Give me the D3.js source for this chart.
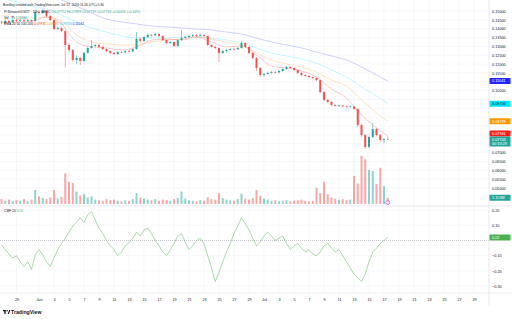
<!doctype html>
<html lang="en">
<head>
<meta charset="utf-8">
<title>PI/USDT</title>
<script src="https://cdn.jsdelivr.net/npm/d3@7"></script>
<style>
  body { margin: 0; background: #fff; }
  svg { display: block; font-family: "Liberation Sans", Arial, sans-serif; }
</style>
</head>
<body>
<script>
// 12h candles from 27 May, open of each candle = previous close
var firstOpen = 0.1435;
var closes = [0.1432,0.1444,0.1438,0.1449,0.1444,0.1449,0.1444,0.1449,0.1444,0.1494,
  0.1489,0.1500,0.1472,0.1449,0.1398,0.1404,0.1387,0.1308,0.1280,0.1223,
  0.1235,0.1218,0.1263,0.1291,0.1302,0.1308,0.1297,0.1285,0.1274,0.1263,
  0.1257,0.1268,0.1266,0.1274,0.1272,0.1285,0.1342,0.1331,0.1353,0.1364,
  0.1362,0.1370,0.1359,0.1336,0.1319,0.1325,0.1302,0.1336,0.1348,0.1353,
  0.1359,0.1364,0.1359,0.1364,0.1359,0.1308,0.1297,0.1291,0.1263,0.1274,
  0.1280,0.1285,0.1283,0.1291,0.1319,0.1297,0.1263,0.1235,0.1178,0.1138,
  0.1144,0.1150,0.1155,0.1153,0.1161,0.1172,0.1184,0.1178,0.1167,0.1150,
  0.1138,0.1133,0.1127,0.1122,0.1110,0.1042,0.0998,0.0986,0.0969,0.0964,
  0.0966,0.0962,0.0958,0.0960,0.0947,0.0856,0.0799,0.0732,0.0788,0.0833,
  0.0799,0.0771,0.07752,0.07743];
var highs = [0.1445,0.1452,0.1450,0.1456,0.1455,0.1458,0.1454,0.1457,0.1453,0.1503,
  0.1506,0.1511,0.1504,0.1478,0.1452,0.1412,0.1408,0.1390,0.1316,0.1285,
  0.1248,0.1240,0.1270,0.1300,0.1336,0.1315,0.1312,0.1300,0.1289,0.1278,
  0.1268,0.1274,0.1274,0.1279,0.1280,0.1290,0.1381,0.1350,0.1360,0.1372,
  0.1370,0.1378,0.1374,0.1363,0.1340,0.1332,0.1329,0.1342,0.1393,0.1360,
  0.1366,0.1371,0.1369,0.1373,0.1368,0.1362,0.1312,0.1302,0.1295,0.1281,
  0.1286,0.1292,0.1293,0.1297,0.1331,0.1323,0.1300,0.1267,0.1239,0.1183,
  0.1150,0.1156,0.1162,0.1160,0.1167,0.1180,0.1190,0.1188,0.1182,0.1171,
  0.1154,0.1143,0.1137,0.1131,0.1126,0.1113,0.1046,0.1004,0.0991,0.0974,
  0.0972,0.0970,0.0966,0.0966,0.0964,0.0950,0.0862,0.0805,0.0796,0.0867,
  0.0840,0.0805,0.0782,0.07899];
var lows = [0.1425,0.1428,0.1432,0.1433,0.1438,0.1439,0.1437,0.1440,0.1436,0.1440,
  0.1480,0.1484,0.1466,0.1443,0.1392,0.1393,0.1380,0.1180,0.1268,0.1215,
  0.1200,0.1195,0.1212,0.1258,0.1286,0.1296,0.1290,0.1279,0.1268,0.1257,
  0.1250,0.1252,0.1261,0.1260,0.1266,0.1268,0.1281,0.1322,0.1325,0.1348,
  0.1355,0.1357,0.1353,0.1330,0.1313,0.1314,0.1296,0.1298,0.1331,0.1342,
  0.1348,0.1354,0.1352,0.1355,0.1351,0.1302,0.1290,0.1284,0.1212,0.1258,
  0.1266,0.1276,0.1277,0.1279,0.1287,0.1291,0.1256,0.1228,0.1160,0.1128,
  0.1127,0.1139,0.1145,0.1147,0.1148,0.1157,0.1168,0.1172,0.1161,0.1144,
  0.1132,0.1126,0.1120,0.1115,0.1104,0.1035,0.0990,0.0979,0.0962,0.0958,
  0.0959,0.0956,0.0952,0.0953,0.0941,0.0845,0.0788,0.0720,0.0727,0.0782,
  0.0790,0.0760,0.0752,0.07719];
// volume in millions
var volumes = [0.9,0.6,0.8,0.5,0.7,0.6,0.9,0.5,0.8,2.6,
  1.4,1.1,0.9,1.2,2.6,1.0,1.3,5.7,4.1,3.9,
  2.3,1.6,1.9,1.2,1.4,0.8,0.7,0.6,0.9,0.7,
  0.8,0.6,0.5,0.7,0.6,0.9,2.0,1.2,1.0,0.8,
  0.7,0.9,0.6,0.8,0.7,0.6,0.9,1.1,2.3,1.0,
  0.7,0.6,0.5,0.7,0.6,1.2,0.9,0.8,2.0,1.1,
  0.8,0.7,0.6,0.9,1.9,1.0,0.8,1.1,2.6,1.5,
  1.0,0.8,0.6,0.7,0.5,0.6,0.7,0.5,0.6,0.7,
  0.8,0.6,0.5,0.6,3.0,2.0,4.1,1.8,1.2,1.0,
  0.8,0.9,0.7,0.8,5.2,3.8,8.9,8.3,6.3,6.1,
  3.7,6.7,3.3,1.153];
var cmf = [-0.03,-0.06,-0.09,-0.115,-0.10,-0.14,-0.17,-0.14,-0.19,-0.095,
  -0.06,-0.095,-0.14,-0.17,-0.115,-0.06,-0.02,0.015,0.055,0.095,
  0.12,0.15,0.12,0.17,0.19,0.135,0.08,0.045,0.0,-0.035,
  -0.06,-0.10,-0.075,-0.035,-0.015,0.015,0.055,0.03,0.07,0.08,
  0.045,0.0,-0.035,-0.075,-0.10,-0.06,-0.02,0.03,0.045,-0.01,
  -0.06,-0.035,0.0,0.015,-0.02,-0.10,-0.18,-0.27,-0.21,-0.14,
  -0.075,-0.02,0.045,0.095,0.15,0.11,0.07,0.015,-0.035,-0.01,
  0.03,0.055,0.03,0.0,0.015,0.03,-0.02,-0.06,-0.035,-0.02,
  -0.05,-0.075,-0.06,-0.09,-0.10,-0.075,-0.035,-0.02,-0.05,-0.075,
  -0.06,-0.10,-0.14,-0.18,-0.22,-0.245,-0.27,-0.22,-0.14,-0.075,
  -0.05,-0.02,0.0,0.02];

// EMA ribbon, read every 4th candle
var maIndex = [0,4,8,12,16,20,24,28,32,36,40,44,48,52,56,60,64,68,72,76,80,84,88,92,96,100,103];
var emaRed = [0.1438,0.1438,0.1441,0.1466,0.1427,0.1325,0.1297,0.1291,0.1280,0.1297,0.1336,0.1342,0.1336,0.1353,0.1325,0.1297,0.1302,0.1251,0.1189,0.1178,0.1161,0.1127,0.1059,0.1008,0.0912,0.0839,0.07931];
var emaOrange = [0.1477,0.1466,0.1460,0.1466,0.1444,0.1364,0.1325,0.1314,0.1308,0.1308,0.1325,0.1336,0.1342,0.1353,0.1342,0.1325,0.1308,0.1263,0.1223,0.1201,0.1184,0.1155,0.1110,0.1076,0.0997,0.0924,0.08778];
var emaCyan = [0.1573,0.1551,0.1528,0.1511,0.1477,0.1438,0.1404,0.1381,0.1359,0.1347,0.1347,0.1347,0.1353,0.1353,0.1347,0.1336,0.1319,0.1291,0.1263,0.1246,0.1229,0.1206,0.1167,0.1127,0.1071,0.1020,0.09756];
var emaBlue = [0.1703,0.1664,0.1630,0.1596,0.1562,0.1528,0.1489,0.1455,0.1438,0.1427,0.1415,0.1410,0.1404,0.1398,0.1393,0.1381,0.1370,0.1347,0.1325,0.1308,0.1291,0.1268,0.1246,0.1223,0.1184,0.1138,0.11041];

var dateTicks = ["2026-05-29","2026-06-01","2026-06-03","2026-06-05","2026-06-07","2026-06-09","2026-06-11",
  "2026-06-13","2026-06-15","2026-06-17","2026-06-19","2026-06-21","2026-06-23","2026-06-25","2026-06-27",
  "2026-06-29","2026-07-01","2026-07-03","2026-07-05","2026-07-07","2026-07-09","2026-07-11","2026-07-13",
  "2026-07-15","2026-07-17","2026-07-19","2026-07-21","2026-07-23","2026-07-25","2026-07-27","2026-07-29"];
var priceTicks = [0.150,0.145,0.140,0.135,0.130,0.125,0.120,0.115,0.110,0.105,0.100,0.095,0.090,0.085,0.080,0.075,0.070,0.065,0.060,0.055,0.050];
var cmfTicks = [0.2,0.1,-0.1,-0.2,-0.3];

var UP = "#26a69a", DOWN = "#ef5350", GRID = "#f2f4f9", TXT = "#131722";
var W = 512, H = 319, axisX = 489, paneSplit = 206, timeAxisY = 293;

var svg = d3.select("body").append("svg").attr("width", W).attr("height", H);

var startTime = Date.UTC(2026, 4, 27);
var candles = closes.map(function(c, i){
  return {t: new Date(startTime + i*12*3600*1000), o: i ? closes[i-1] : firstOpen, h: highs[i], l: lows[i], c: c, v: volumes[i], cmf: cmf[i]};
});

var x = d3.scaleUtc().domain([new Date(Date.UTC(2026,5,1)), new Date(Date.UTC(2026,6,29))]).range([39, 474]);
var y = d3.scaleLinear().domain([0.045, 0.150]).range([196.85, 11]);
var yVol = d3.scaleLinear().domain([0, 10]).range([204, 150]);
var yCmf = d3.scaleLinear().domain([-0.3, 0.2]).range([286.1, 210.1]);
var bw = 2.0;

var defs = svg.append("defs");
defs.append("clipPath").attr("id","pricePane").append("rect").attr("x",0).attr("y",0).attr("width",axisX).attr("height",paneSplit);
defs.append("clipPath").attr("id","cmfPane").append("rect").attr("x",0).attr("y",paneSplit).attr("width",axisX).attr("height",timeAxisY-paneSplit);

// grid
var tickDates = dateTicks.map(function(s){ return new Date(s + "T00:00:00Z"); });
var grid = svg.append("g");
grid.selectAll(".vg").data(tickDates).enter().append("line")
  .attr("x1", function(d){ return x(d); }).attr("x2", function(d){ return x(d); })
  .attr("y1", 0).attr("y2", timeAxisY).attr("stroke", GRID).attr("stroke-width", 0.6);
grid.selectAll(".hg").data(priceTicks).enter().append("line")
  .attr("x1", 0).attr("x2", axisX).attr("y1", function(d){ return y(d); }).attr("y2", function(d){ return y(d); })
  .attr("stroke", GRID).attr("stroke-width", 0.6);
grid.selectAll(".cg").data(cmfTicks).enter().append("line")
  .attr("x1", 0).attr("x2", axisX).attr("y1", function(d){ return yCmf(d); }).attr("y2", function(d){ return yCmf(d); })
  .attr("stroke", GRID).attr("stroke-width", 0.6);

// volume
var pricePane = svg.append("g").attr("clip-path","url(#pricePane)");
pricePane.append("g").selectAll("rect").data(candles).enter().append("rect")
  .attr("x", function(d){ return x(d.t) - bw/2; })
  .attr("width", bw)
  .attr("y", function(d){ return yVol(d.v); })
  .attr("height", function(d){ return yVol(0) - yVol(d.v); })
  .attr("fill", function(d){ return d.c >= d.o ? UP : DOWN; })
  .attr("fill-opacity", 0.5);

// ema ribbon
var maLine = d3.line()
  .x(function(d){ return x(candles[d[0]].t); })
  .y(function(d){ return y(d[1]); })
  .curve(d3.curveMonotoneX);
var ribbon = [
  {vals: emaBlue, color: "#3d3dff"},
  {vals: emaCyan, color: "#00e1ff"},
  {vals: emaOrange, color: "#ff8a00"},
  {vals: emaRed, color: "#ff2020"}
];
ribbon.forEach(function(r){
  pricePane.append("path")
    .attr("d", maLine(maIndex.map(function(k, j){ return [k, r.vals[j]]; })))
    .attr("fill","none").attr("stroke", r.color).attr("stroke-opacity", 0.27).attr("stroke-width", 0.9);
});

// candles
var cg = pricePane.append("g").selectAll("g").data(candles).enter().append("g");
cg.append("line")
  .attr("x1", function(d){ return x(d.t); }).attr("x2", function(d){ return x(d.t); })
  .attr("y1", function(d){ return y(d.h); }).attr("y2", function(d){ return y(d.l); })
  .attr("stroke", function(d){ return d.c >= d.o ? UP : DOWN; }).attr("stroke-width", 0.5);
cg.append("rect")
  .attr("x", function(d){ return x(d.t) - bw/2; })
  .attr("width", bw)
  .attr("y", function(d){ return y(Math.max(d.o, d.c)); })
  .attr("height", function(d){ return Math.max(0.6, Math.abs(y(d.o) - y(d.c))); })
  .attr("fill", function(d){ return d.c >= d.o ? UP : DOWN; });

// event marker
var last = candles[candles.length - 1];
pricePane.append("circle").attr("cx", x(last.t)).attr("cy", 202.5).attr("r", 2)
  .attr("fill", "#f3e5f5").attr("stroke", "#9c27b0").attr("stroke-width", 0.5);

// CMF pane
var cmfPane = svg.append("g").attr("clip-path","url(#cmfPane)");
cmfPane.append("line").attr("x1",0).attr("x2",axisX).attr("y1",yCmf(0)).attr("y2",yCmf(0))
  .attr("stroke","#787b86").attr("stroke-width",0.6).attr("stroke-dasharray","1,1").attr("stroke-opacity",0.7);
cmfPane.append("path")
  .attr("d", d3.line().x(function(d){ return x(d.t); }).y(function(d){ return yCmf(d.cmf); })(candles))
  .attr("fill","none").attr("stroke","#4caf50").attr("stroke-opacity",0.6).attr("stroke-width",0.8);

// pane borders
svg.append("line").attr("x1",0).attr("x2",W).attr("y1",paneSplit).attr("y2",paneSplit).attr("stroke","#e0e3eb").attr("stroke-width",0.8);
svg.append("line").attr("x1",0).attr("x2",W).attr("y1",timeAxisY).attr("y2",timeAxisY).attr("stroke","#e0e3eb").attr("stroke-width",0.6);
svg.append("line").attr("x1",axisX).attr("x2",axisX).attr("y1",0).attr("y2",305).attr("stroke","#e0e3eb").attr("stroke-width",0.8);

// boxes on the right scale
var boxes = [
  {y: y(emaBlue[emaBlue.length-1]), text: d3.format(".5f")(emaBlue[emaBlue.length-1]), fill: "#2424ff"},
  {y: y(emaCyan[emaCyan.length-1]), text: d3.format(".5f")(emaCyan[emaCyan.length-1]), fill: "#00e5ff"},
  {y: y(emaOrange[emaOrange.length-1]), text: d3.format(".5f")(emaOrange[emaOrange.length-1]), fill: "#ff9800"},
  {y: Math.min(y(emaRed[emaRed.length-1]), y(last.c) - 6), text: d3.format(".5f")(emaRed[emaRed.length-1]), fill: "#ff1a1a"}
];

// price axis
var yAxis = d3.axisRight(y).tickValues(priceTicks).tickSize(0).tickPadding(3).tickFormat(d3.format(".5f"));
var ya = svg.append("g").attr("transform","translate(" + axisX + ",0)").call(yAxis);
ya.select(".domain").remove();
ya.selectAll("text").attr("font-size", 3.8).attr("fill", TXT).attr("font-family", "Liberation Sans, Arial, sans-serif")
  .style("display", function(d){
    var yy = y(d);
    var hit = boxes.some(function(b){ return Math.abs(b.y - yy) < 5; }) || Math.abs(y(last.c) + 2 - yy) < 7 || Math.abs(yVol(last.v) - yy) < 5;
    return hit ? "none" : null;
  });

var cmfAxis = d3.axisRight(yCmf).tickValues(cmfTicks).tickSize(0).tickPadding(3).tickFormat(d3.format(".2f"));
var ca = svg.append("g").attr("transform","translate(" + axisX + ",0)").call(cmfAxis);
ca.select(".domain").remove();
ca.selectAll("text").attr("font-size", 3.8).attr("fill", TXT).attr("font-family", "Liberation Sans, Arial, sans-serif")
  .text(function(d){ return d < 0 ? "\u2212" + d3.format(".2f")(-d) : d3.format(".2f")(d); });

function box(yc, h, fill, lines, color){
  var g = svg.append("g");
  g.append("rect").attr("x", axisX + 0.5).attr("y", yc - h/2).attr("width", 21).attr("height", h).attr("fill", fill).attr("rx", 0.6);
  lines.forEach(function(t, i){
    g.append("text").attr("x", axisX + 3).attr("y", yc - h/2 + 4.4 + i*4.2).attr("font-size", 3.8).attr("fill", color || "#fff").text(t);
  });
}
boxes.forEach(function(b){ box(b.y, 6, b.fill, [b.text], b.fill === "#00e5ff" ? TXT : "#fff"); });
box(y(last.c) + 2, 10, UP, [d3.format(".5f")(last.c), "00:33:28"]);
box(yVol(last.v), 6, UP, [d3.format(".3f")(last.v) + "M"]);
box(yCmf(cmf[cmf.length-1]), 6, "#4caf50", [d3.format(".2f")(cmf[cmf.length-1])]);

// time axis
var xAxis = d3.axisBottom(x).tickValues(tickDates).tickSize(0).tickPadding(5)
  .tickFormat(function(d){ return d.getUTCDate() === 1 ? d3.utcFormat("%b")(d) : d.getUTCDate(); });
var xa = svg.append("g").attr("transform","translate(0," + timeAxisY + ")").call(xAxis);
xa.select(".domain").remove();
xa.selectAll("text").attr("font-size", 3.8).attr("fill", TXT).attr("font-family", "Liberation Sans, Arial, sans-serif");

// legends
var lg = svg.append("g").attr("font-size", 3.3);
lg.append("text").attr("x", 3).attr("y", 5.5).attr("fill", TXT).text("Bonilloy created with TradingView.com, Jul 17, 2026 11:26 UTC+5:30");
var l2 = lg.append("text").attr("x", 4).attr("y", 12.5).attr("fill", TXT);
l2.append("tspan").text("Pi Network/USDT \u00b7 12h \u00b7 MEXC  ");
l2.append("tspan").attr("fill", UP).text("O" + d3.format(".5f")(last.o) + " H" + d3.format(".5f")(last.h) + " L" + d3.format(".5f")(last.l) + " C" + d3.format(".5f")(last.c) + " +0.00026 (+0.34%)");
var l3 = lg.append("text").attr("x", 4).attr("y", 18.5).attr("fill", TXT);
l3.append("tspan").text("Vol \u00b7 Pi  ");
l3.append("tspan").attr("fill", UP).text(d3.format(".3f")(last.v) + "M");
var l4 = lg.append("text").attr("x", 4).attr("y", 24.5).attr("fill", TXT);
l4.append("tspan").text("EMA 20 50 100 200   ");
[["#ff1a1a", emaRed], ["#ff9800", emaOrange], ["#00c8e6", emaCyan], ["#2424ff", emaBlue]].forEach(function(p){
  l4.append("tspan").attr("fill", p[0]).text(d3.format(".5f")(p[1][p[1].length-1]) + "  ");
});
var l5 = svg.append("text").attr("x", 4).attr("y", 212).attr("font-size", 3.3).attr("fill", TXT);
l5.append("tspan").text("CMF 20  ");
l5.append("tspan").attr("fill", "#4caf50").text(d3.format(".2f")(cmf[cmf.length-1]));

// logo
var logo = svg.append("g").attr("transform", "translate(3,310)");
logo.append("rect").attr("x", 0).attr("y", 0).attr("width", 2.6).attr("height", 1.3).attr("fill", TXT);
logo.append("rect").attr("x", 1.3).attr("y", 0).attr("width", 1.3).attr("height", 4).attr("fill", TXT);
logo.append("circle").attr("cx", 4).attr("cy", 0.8).attr("r", 0.8).attr("fill", TXT);
logo.append("path").attr("d", "M4.6,4 L6.2,0 L7.4,0 L5.8,4 Z").attr("fill", TXT);
svg.append("text").attr("x", 11).attr("y", 314).attr("font-size", 5.2).attr("font-weight", "bold").attr("fill", TXT).text("TradingView");
</script>
</body>
</html>
